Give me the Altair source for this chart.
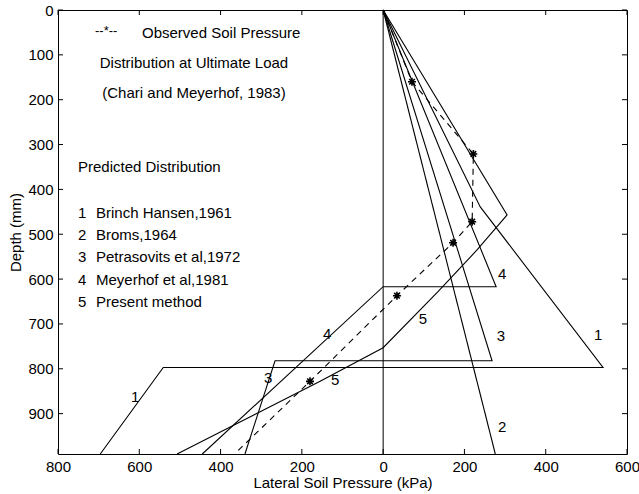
import altair as alt
import pandas as pd

# ---- data (x: lateral soil pressure kPa, y: depth mm) ----
bh_x = [0, 170, 239, 541, -541, -696]
bh_y = [0, 312, 439, 797, 797, 990]
broms_x = [0, 276]
broms_y = [0, 990]
pet_x = [0, 268, -266, -340]
pet_y = [0, 782, 782, 990]
mey_x = [0, 278, 0, -445]
mey_y = [0, 617, 617, 990]
pres_x = [0, 305, 231, 135, 0, -155, -507]
pres_y = [0, 457, 535, 628, 753, 828, 990]
obs_x = [0, 71, 222, 219, 172, 34, -180, -360]
obs_y = [0, 160, 321, 472, 519, 637, 828, 985]
obs_star = [False, True, True, True, True, True, True, False]

curve_lab_text = ["1", "1", "2", "3", "3", "4", "4", "5", "5"]
curve_lab_x = [529, -610, 293, 290, -283, 293, -138, 98, -118]
curve_lab_y = [724, 864, 929, 728, 820, 588, 722, 688, 824]

x_ticks = [-800, -600, -400, -200, 0, 200, 400, 600]
y_ticks = [0, 100, 200, 300, 400, 500, 600, 700, 800, 900]

W, H = 569, 444
FONT = "Liberation Sans"
FS = 15

rows = []
for name, xs_, ys_ in [("1", bh_x, bh_y), ("2", broms_x, broms_y), ("3", pet_x, pet_y),
                       ("4", mey_x, mey_y), ("5", pres_x, pres_y)]:
    for i, (a, b) in enumerate(zip(xs_, ys_)):
        rows.append({"series": name, "i": i, "p": a, "d": b})
pred = pd.DataFrame(rows)
obs = pd.DataFrame({"i": range(len(obs_x)), "p": obs_x, "d": obs_y, "star": obs_star})
labs = pd.DataFrame({"t": curve_lab_text, "p": curve_lab_x, "d": curve_lab_y})

xs = alt.Scale(domain=[-800, 600], nice=False, zero=False)
ys = alt.Scale(domain=[0, 990], reverse=True, nice=False, zero=False)

xaxis = alt.Axis(values=x_ticks, labelExpr="abs(datum.value)", ticks=False, tickSize=0,
                 domain=False, grid=False, labelPadding=5, title="Lateral Soil Pressure (kPa)",
                 titlePadding=1, labelFont=FONT, titleFont=FONT, labelFontSize=FS,
                 titleFontSize=FS, titleFontWeight="normal", labelColor="black",
                 titleColor="black", labelFlush=False)
yaxis = alt.Axis(values=y_ticks, ticks=False, tickSize=0, domain=False, grid=False,
                 labelPadding=5, title="Depth (mm)", titlePadding=4, labelFont=FONT,
                 titleFont=FONT, labelFontSize=FS, titleFontSize=FS,
                 titleFontWeight="normal", labelColor="black", titleColor="black",
                 labelFlush=False)


def X(f):
    return alt.X(f, scale=xs, axis=xaxis)


def Y(f):
    return alt.Y(f, scale=ys, axis=yaxis)


pred_lines = alt.Chart(pred).mark_line(color="black", strokeWidth=1.1).encode(
    x=X("p:Q"), y=Y("d:Q"), detail="series:N", order="i:Q",
)

zero_line = alt.Chart(pd.DataFrame({"p": [0]})).mark_rule(color="black", strokeWidth=1).encode(
    x=X("p:Q")
)

obs_line = alt.Chart(obs).mark_line(color="black", strokeWidth=1.1, strokeDash=[6, 5]).encode(
    x=X("p:Q"), y=Y("d:Q"), order="i:Q",
)
asterisk = "M-1,0L1,0M0,-1L0,1M-0.7,-0.7L0.7,0.7M-0.7,0.7L0.7,-0.7"
obs_pts = alt.Chart(obs).transform_filter("datum.star").mark_point(
    shape=asterisk, color="black", filled=False, size=64, strokeWidth=1.6, opacity=1
).encode(x=X("p:Q"), y=Y("d:Q"))

curve_labels = alt.Chart(labs).mark_text(font=FONT, fontSize=FS, color="black").encode(
    x=X("p:Q"), y=Y("d:Q"), text="t:N",
)

tick_df = pd.DataFrame({"p": x_ticks})
ytick_df = pd.DataFrame({"d": y_ticks})
tb = alt.Chart(tick_df).mark_rule(color="black").encode(
    x=X("p:Q"), y=alt.value(H), y2=alt.value(H - 5))
tt = alt.Chart(tick_df).mark_rule(color="black").encode(
    x=X("p:Q"), y=alt.value(0), y2=alt.value(5))
tl = alt.Chart(ytick_df).mark_rule(color="black").encode(
    y=Y("d:Q"), x=alt.value(0), x2=alt.value(5))
tr = alt.Chart(ytick_df).mark_rule(color="black").encode(
    y=Y("d:Q"), x=alt.value(W - 5), x2=alt.value(W))


def txt(s, x, y, align="left", size=FS):
    return alt.Chart(pd.DataFrame({"a": [0]})).mark_text(
        font=FONT, fontSize=size, color="black", align=align, baseline="middle"
    ).encode(x=alt.value(x), y=alt.value(y), text=alt.value(s))


texts = [
    txt("--*--", 37, 21, size=13),
    txt("Observed Soil Pressure", 84, 23),
    txt("Distribution at Ultimate Load", 136, 53, "center"),
    txt("(Chari and Meyerhof, 1983)", 136, 83, "center"),
    txt("Predicted Distribution", 20, 157),
    txt("1", 20, 203), txt("Brinch Hansen,1961", 38, 203),
    txt("2", 20, 225), txt("Broms,1964", 38, 225),
    txt("3", 20, 247), txt("Petrasovits et al,1972", 38, 247),
    txt("4", 20, 270), txt("Meyerhof et al,1981", 38, 270),
    txt("5", 20, 292), txt("Present method", 38, 292),
]

chart = alt.layer(pred_lines, zero_line, obs_line, obs_pts, curve_labels, tb, tt, tl, tr, *texts).properties(
    width=W, height=H,
    autosize=alt.AutoSizeParams(type="none"),
    padding={"left": 58, "top": 10, "right": 12, "bottom": 40},
    background="white",
).configure_view(stroke="black", strokeWidth=1)

chart.save("out.html", embed_options={"renderer": "svg", "actions": False})
